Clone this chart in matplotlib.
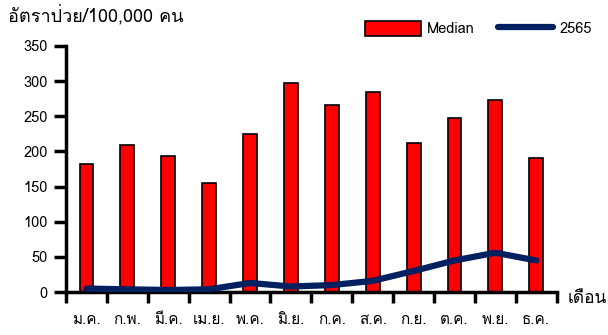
import numpy as np
import matplotlib
matplotlib.use('Agg')
import matplotlib.pyplot as plt
from matplotlib import font_manager
from matplotlib.ft2font import FT2Font
from matplotlib.patches import Patch
from matplotlib.lines import Line2D

months = ['ม.ค.', 'ก.พ.', 'มี.ค.', 'เม.ย.', 'พ.ค.', 'มิ.ย.',
          'ก.ค.', 'ส.ค.', 'ก.ย.', 'ต.ค.', 'พ.ย.', 'ธ.ค.']
median = [182, 209, 193, 155, 225, 297, 266, 284, 212, 247, 273, 191]
y2565 = [5, 4, 3, 4, 13, 8, 10, 16, 30, 45, 56, 45]

# find a font that has Thai glyphs
thai_font = None
for f in sorted(font_manager.findSystemFonts()):
    try:
        cm = FT2Font(f).get_charmap()
    except Exception:
        continue
    if 0x0E01 in cm and 0x0E37 in cm:
        thai_font = font_manager.FontProperties(fname=f).get_name()
        break

fams = ['DejaVu Sans']
if thai_font:
    fams = [thai_font, 'DejaVu Sans']
plt.rcParams['font.family'] = fams

fig = plt.figure(figsize=(6.08, 3.35), dpi=100)
ax = fig.add_axes([0.1086, 0.128, 0.807, 0.735])

x = np.arange(len(months))
ax.bar(x, median, width=0.34, color='#ff0000', edgecolor='black', linewidth=1.2, zorder=2)
ax.plot(x, y2565, color='#002060', linewidth=4.5, solid_capstyle='round',
        solid_joinstyle='round', zorder=3)

ax.set_xlim(-0.5, 11.5)
ax.set_ylim(0, 350)
ax.set_yticks(np.arange(0, 351, 50))
ax.set_xticks(x)
ax.set_xticklabels(months, fontsize=11)
ax.set_xticks(np.arange(-0.5, 12, 1), minor=True)
ax.tick_params(axis='x', which='major', length=0, pad=15)
ax.tick_params(axis='x', which='minor', length=8, width=2.5, direction='out')
ax.tick_params(axis='y', length=9, width=2.5, direction='out', labelsize=10.5, pad=4)

for s in ['top', 'right']:
    ax.spines[s].set_visible(False)
for s in ['left', 'bottom']:
    ax.spines[s].set_linewidth(2.5)

fig.text(0.013, 0.955, 'อัตราป่วย/100,000 คน', fontsize=13, ha='left', va='center')
fig.text(0.933, 0.108, 'เดือน', fontsize=12.5, ha='left', va='center')

handles = [Patch(facecolor='#ff0000', edgecolor='black', linewidth=1.2),
           Line2D([0], [0], color='#002060', linewidth=4.5, solid_capstyle='round')]
fig.legend(handles, ['Median', '2565'], loc='center', bbox_to_anchor=(0.787, 0.915),
           ncol=2, frameon=False, fontsize=10.5, handlelength=3.8, handleheight=1.2,
           handletextpad=0.4, columnspacing=1.6)

fig.savefig('out.png', dpi=100)
